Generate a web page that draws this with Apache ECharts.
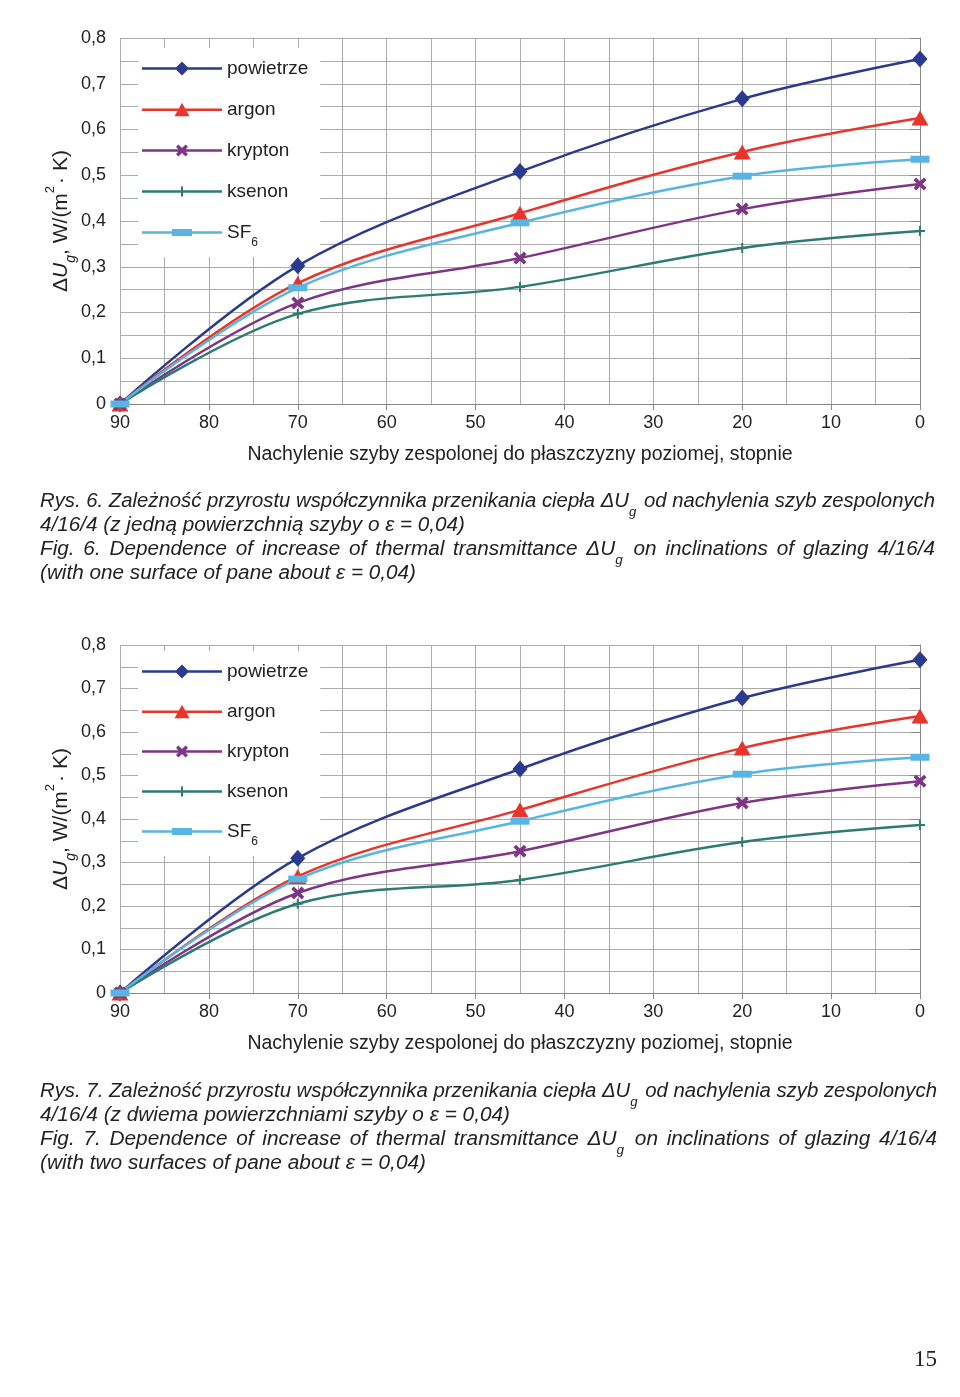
<!DOCTYPE html>
<html><head><meta charset="utf-8">
<script src="https://cdn.jsdelivr.net/npm/echarts@6/dist/echarts.min.js"></script>
<style>html,body{margin:0;padding:0;background:#fff}#c{width:960px;height:1397px}</style>
</head><body><div id="c"></div>
<script>
// ---- data ----
const angles = [90, 70, 45, 20, 0];
const seriesNames = ['powietrze', 'argon', 'krypton', 'ksenon', 'SF6'];
// Fig. 6 (one surface e = 0,04)
const powietrze6 = [0, 0.302, 0.508, 0.667, 0.754];
const argon6     = [0, 0.264, 0.417, 0.551, 0.625];
const krypton6   = [0, 0.221, 0.319, 0.426, 0.481];
const ksenon6    = [0, 0.197, 0.256, 0.341, 0.378];
const sf6_6      = [0, 0.254, 0.396, 0.498, 0.535];
// Fig. 7 (two surfaces e = 0,04)
const powietrze7 = [0, 0.310, 0.515, 0.678, 0.766];
const argon7     = [0, 0.268, 0.421, 0.563, 0.637];
const krypton7   = [0, 0.230, 0.326, 0.437, 0.487];
const ksenon7    = [0, 0.205, 0.260, 0.347, 0.386];
const sf6_7      = [0, 0.262, 0.395, 0.503, 0.542];
const xTickLabels = [90, 80, 70, 60, 50, 40, 30, 20, 10, 0];
const yTickLabels = ['0', '0,1', '0,2', '0,3', '0,4', '0,5', '0,6', '0,7', '0,8'];
const xTitle = 'Nachylenie szyby zespolonej do płaszczyzny poziomej, stopnie';
const captions6 = [
  ['Rys. 6. Zależność przyrostu współczynnika przenikania ciepła ΔU', 'g', ' od nachylenia szyb zespolonych'],
  ['4/16/4 (z jedną powierzchnią szyby o ε = 0,04)'],
  ['Fig. 6. Dependence of increase of thermal transmittance ΔU', 'g', ' on inclinations of glazing 4/16/4'],
  ['(with one surface of pane about ε = 0,04)']
];
const captions7 = [
  ['Rys. 7. Zależność przyrostu współczynnika przenikania ciepła ΔU', 'g', ' od nachylenia szyb zespolonych'],
  ['4/16/4 (z dwiema powierzchniami szyby o ε = 0,04)'],
  ['Fig. 7. Dependence of increase of thermal transmittance ΔU', 'g', ' on inclinations of glazing 4/16/4'],
  ['(with two surfaces of pane about ε = 0,04)']
];
const pageNumber = '15';

// ---- styles ----
const FONT = 'Liberation Sans, Arial, sans-serif';
const TXT = '#222';
const GRID = '#ababab';
const LINE = 'M0,7.75 H80 V10.25 H0 Z ';
const styles = {
  powietrze: {color: '#2a3a8e', symbol: 'diamond', symbolSize: [15, 17],
    icon: 'path://' + LINE + 'M33,9 L40,2 L47,9 L40,16 Z'},
  argon:     {color: '#e8352b', symbol: 'triangle', symbolSize: [17, 15],
    icon: 'path://' + LINE + 'M32.5,15.5 L40,2 L47.5,15.5 Z'},
  krypton:   {color: '#7e3585', symbol: 'path://M0,2 L2,0 L5,3 L8,0 L10,2 L7,5 L10,8 L8,10 L5,7 L2,10 L0,8 L3,5 Z', symbolSize: 13,
    icon: 'path://' + LINE + 'M34,5.4 L36.4,3 L40,6.6 L43.6,3 L46,5.4 L42.4,9 L46,12.6 L43.6,15 L40,11.4 L36.4,15 L34,12.6 L37.6,9 Z'},
  ksenon:    {color: '#2e7b73', symbol: 'path://M4,0 H6 V4 H10 V6 H6 V10 H4 V6 H0 V4 H4 Z', symbolSize: 10,
    icon: 'path://' + LINE + 'M39,4 H41 V8 H45 V10 H41 V14 H39 V10 H35 V8 H39 Z'},
  SF6:       {color: '#58b4e2', symbol: 'rect', symbolSize: [19, 7],
    icon: 'path://' + LINE + 'M30,5.5 H50 V12.5 H30 Z'}
};
const data6 = {powietrze: powietrze6, argon: argon6, krypton: krypton6, ksenon: ksenon6, SF6: sf6_6};
const data7 = {powietrze: powietrze7, argon: argon7, krypton: krypton7, ksenon: ksenon7, SF6: sf6_7};

const grids = [
  {left: 120, width: 800, top: 38, height: 366},
  {left: 120, width: 800, top: 645, height: 348}
];

function xAxis(i) {
  return {
    type: 'value', gridIndex: i, inverse: true, min: 0, max: 90, interval: 10,
    name: xTitle, nameLocation: 'middle', nameGap: 41, nameMoveOverlap: false,
    nameTextStyle: {fontFamily: FONT, fontSize: 19.5, color: TXT},
    axisLine: {lineStyle: {color: '#888', width: 1}},
    axisTick: {show: true, length: 6, lineStyle: {color: '#888'}},
    axisLabel: {fontFamily: FONT, fontSize: 18, color: TXT, margin: 10,
      formatter: v => xTickLabels.indexOf(v) >= 0 ? String(v) : ''},
    splitLine: {show: true, lineStyle: {color: GRID, width: 1}},
    minorTick: {show: false, splitNumber: 2},
    minorSplitLine: {show: true, lineStyle: {color: GRID, width: 1}}
  };
}
function yAxis(i) {
  return {
    type: 'value', gridIndex: i, min: 0, max: 0.8, interval: 0.1,
    name: '{d|Δ}{u|U}{g|g}{n|, W/(m}{s|2}{n|· K)}',
    nameLocation: 'middle', nameGap: 48, nameRotate: 90, nameMoveOverlap: false,
    nameTextStyle: {
      fontFamily: FONT, fontSize: 21, color: TXT,
      rich: {
        d: {fontFamily: FONT, fontSize: 21, color: TXT},
        u: {fontFamily: FONT, fontSize: 21, fontStyle: 'italic', color: TXT},
        g: {fontFamily: FONT, fontSize: 14, fontStyle: 'italic', color: TXT, verticalAlign: 'bottom', padding: [0, 0, -6, 0]},
        n: {fontFamily: FONT, fontSize: 21, color: TXT},
        s: {fontFamily: FONT, fontSize: 13, color: TXT, verticalAlign: 'top', padding: [-7, 2, 0, 0]}
      }
    },
    axisLine: {show: true, lineStyle: {color: '#888', width: 1}},
    axisTick: {show: true, length: 10, lineStyle: {color: '#888'}},
    axisLabel: {fontFamily: FONT, fontSize: 18, color: TXT, margin: 14,
      formatter: v => yTickLabels[Math.round(v * 10)] || ''},
    splitLine: {show: true, lineStyle: {color: GRID, width: 1}},
    minorTick: {show: false, splitNumber: 2},
    minorSplitLine: {show: true, lineStyle: {color: GRID, width: 1}}
  };
}

const series = [];
[data6, data7].forEach((d, gi) => {
  seriesNames.forEach(name => {
    const st = styles[name];
    series.push({
      name: name, type: 'line', xAxisIndex: gi, yAxisIndex: gi,
      data: angles.map((a, k) => [a, d[name][k]]),
      smooth: 0.35,
      symbol: st.symbol, symbolSize: st.symbolSize,
      lineStyle: {color: st.color, width: 2.5},
      itemStyle: {color: st.color},
      z: 6
    });
  });
});

function legend(top, gap) {
  return {
    data: seriesNames.map(n => ({name: n, icon: styles[n].icon, itemStyle: {color: styles[n].color, borderWidth: 0}})),
    orient: 'vertical', left: 138, top: top,
    backgroundColor: '#fff', padding: [10, 12, 8, 4],
    itemWidth: 80, itemHeight: 18, itemGap: gap, symbolKeepAspect: true,
    selectedMode: false, z: 3,
    textStyle: {fontFamily: FONT, fontSize: 19, color: TXT, lineHeight: 21,
      rich: {sub: {fontFamily: FONT, fontSize: 12, color: TXT, verticalAlign: 'bottom', padding: [0, 0, -6, 0]}}},
    formatter: n => n === 'SF6' ? 'SF{sub|6}' : n
  };
}

// caption layout: glyphs share one horizontal scale per paragraph; full lines are justified with word spacing
const CAP_SIZE = 20, SUB_SIZE = 13;
const measCtx = document.createElement('canvas').getContext('2d');
function mw(t, size) { measCtx.font = 'italic ' + size + 'px Liberation Sans'; return measCtx.measureText(t).width; }
function lineInfo(parts) {
  let w = mw(parts[0], CAP_SIZE);
  if (parts.length === 3) w += mw(parts[2], CAP_SIZE) + mw(parts[1], SUB_SIZE) + 2;
  const spaces = (parts.join('').match(/ /g) || []).length;
  return {w: w, spaces: spaces};
}
function richLine(parts) {
  let out = '';
  const add = t => t.split(' ').forEach((w, k) => { if (k > 0) out += '{sp| }'; if (w) out += '{m|' + w + '}'; });
  add(parts[0]);
  if (parts.length === 3) { out += '{s|' + parts[1] + '}'; add(parts[2]); }
  return out;
}
function captionGraphics(lines, top, widths) {
  const out = [];
  [[0, 1], [2, 3]].forEach(([full, last]) => {
    const infoLast = lineInfo(lines[last]);
    const sx = widths[last] / infoLast.w;
    const infoFull = lineInfo(lines[full]);
    let sxFull = sx, extra = (widths[full] / sx - infoFull.w) / infoFull.spaces;
    if (extra < -1.5) { extra = 0; sxFull = widths[full] / infoFull.w; }
    [[full, sxFull, extra], [last, sx, 0]].forEach(([i, s, ex]) => {
      out.push({
        type: 'text', x: 40, y: top + i * 24, scaleX: s,
        style: {
          text: richLine(lines[i]),
          rich: {
            m: {fontFamily: 'Liberation Sans', fontStyle: 'italic', fontSize: CAP_SIZE, fill: TXT},
            sp: {fontFamily: 'Liberation Sans', fontStyle: 'italic', fontSize: CAP_SIZE, fill: TXT, padding: [0, Math.max(ex, -3), 0, 0]},
            s: {fontFamily: 'Liberation Sans', fontStyle: 'italic', fontSize: SUB_SIZE, fill: TXT, verticalAlign: 'bottom', padding: [0, 2, -8, 0]}
          }
        }
      });
    });
  });
  return out;
}
const capWidths6 = [895, 425, 895, 376];
const capWidths7 = [897, 470, 897, 386];

const chart = echarts.init(document.getElementById('c'), null, {renderer: 'canvas'});
chart.setOption({
  backgroundColor: '#fff',
  animation: false,
  grid: grids,
  xAxis: [xAxis(0), xAxis(1)],
  yAxis: [yAxis(0), yAxis(1)],
  legend: [legend(48, 20), legend(651, 19)],
  series: series,
  graphic: [].concat(
    captionGraphics(captions6, 491, capWidths6),
    captionGraphics(captions7, 1081, capWidths7),
    [{type: 'text', x: 914, y: 1348, style: {text: pageNumber, fontFamily: 'Liberation Serif, serif', fontSize: 23, fill: TXT}}]
  )
});
</script></body></html>
